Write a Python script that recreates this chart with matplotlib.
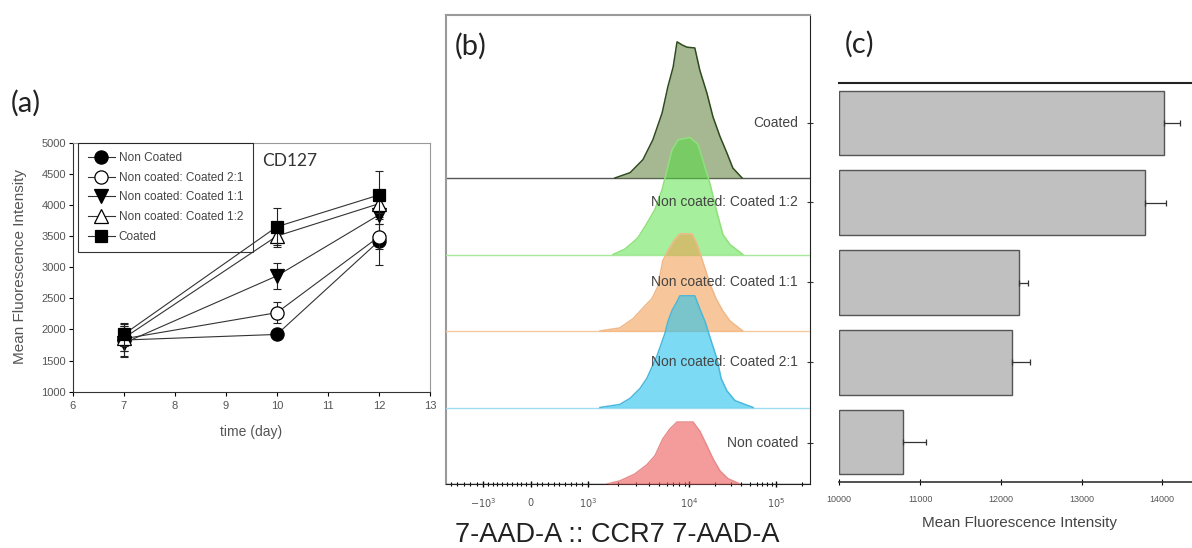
import numpy as np
import matplotlib
matplotlib.use("Agg")
import matplotlib.pyplot as plt

# ---------------- data ----------------
# (a) CD127 time course
days = [7, 10, 12]
non_coated = [1830, 1920, 3420]
non_coated_err = [250, 60, 380]
nc_c_2_1 = [1850, 2270, 3490]
nc_c_2_1_err = [200, 170, 200]
nc_c_1_1 = [1780, 2860, 3840]
nc_c_1_1_err = [230, 210, 150]
nc_c_1_2 = [1860, 3500, 4020]
nc_c_1_2_err = [200, 170, 150]
coated = [1920, 3650, 4160]
coated_err = [180, 300, 380]
series_labels_a = ["Non Coated", "Non coated: Coated 2:1", "Non coated: Coated 1:1",
                   "Non coated: Coated 1:2", "Coated"]

# (b) CCR7 histograms (x in display channel units, height in row units)
hist_labels = ["Coated", "Non coated: Coated 1:2", "Non coated: Coated 1:1",
               "Non coated: Coated 2:1", "Non coated"]
coated_x = [475, 518, 554, 582, 608, 624, 639, 650, 664, 678, 700, 714, 734, 751, 771, 790, 807, 833]
coated_h = [0, 0.07, 0.24, 0.50, 0.85, 1.19, 1.45, 1.78, 1.74, 1.71, 1.70, 1.41, 1.11, 0.80, 0.54, 0.33, 0.13, 0]
c12_x = [470, 503, 526, 540, 563, 588, 608, 622, 636, 653, 686, 709, 726, 743, 760, 779, 799, 835]
c12_h = [0, 0.07, 0.16, 0.22, 0.39, 0.59, 0.85, 1.11, 1.37, 1.50, 1.53, 1.44, 1.18, 0.92, 0.59, 0.26, 0.13, 0]
c11_x = [433, 489, 526, 560, 579, 596, 610, 624, 644, 658, 692, 706, 720, 743, 760, 779, 799, 835]
c11_h = [0, 0.04, 0.16, 0.33, 0.42, 0.58, 0.92, 1.05, 1.20, 1.27, 1.27, 1.14, 0.94, 0.61, 0.42, 0.26, 0.13, 0]
c21_x = [433, 489, 518, 546, 565, 594, 616, 624, 636, 647, 658, 700, 714, 729, 748, 762, 774, 790, 813, 864]
c21_h = [0, 0.04, 0.12, 0.25, 0.38, 0.68, 0.97, 1.12, 1.27, 1.36, 1.46, 1.46, 1.29, 1.12, 0.84, 0.64, 0.38, 0.22, 0.09, 0]
nc_x = [453, 489, 531, 565, 588, 610, 630, 650, 695, 714, 734, 751, 771, 793, 827]
nc_h = [0, 0.04, 0.13, 0.25, 0.37, 0.59, 0.72, 0.81, 0.81, 0.69, 0.50, 0.33, 0.17, 0.07, 0]
b_tick_pos = [104, 239, 399, 684, 928]
b_tick_labels = [r"$-10^3$", r"$0$", r"$10^3$", r"$10^4$", r"$10^5$"]

# (c) mean fluorescence intensity bars (top to bottom)
mfi_categories = ["Coated", "Non coated: Coated 1:2", "Non coated: Coated 1:1",
                  "Non coated: Coated 2:1", "Non coated"]
mfi = [14025, 13780, 12225, 12140, 10790]
mfi_err = [195, 270, 110, 220, 280]

# ---------------- figure ----------------
W, H = 1192, 548
fig = plt.figure(figsize=(W / 100, H / 100), dpi=100)
plt.rcParams['font.family'] = ['Liberation Sans', 'DejaVu Sans']

def box(l, t, r, b):
    return [l / W, 1 - b / H, (r - l) / W, (b - t) / H]

# ---------- panel (a) ----------
ax = fig.add_axes(box(72.7, 142.7, 430, 391.7))
styles = [
    dict(marker='o', mfc='black', ms=9.5),
    dict(marker='o', mfc='white', ms=9.5),
    dict(marker='v', mfc='black', ms=9.5),
    dict(marker='^', mfc='white', ms=9.5),
    dict(marker='s', mfc='black', ms=8.5),
]
all_vals = [non_coated, nc_c_2_1, nc_c_1_1, nc_c_1_2, coated]
all_errs = [non_coated_err, nc_c_2_1_err, nc_c_1_1_err, nc_c_1_2_err, coated_err]
handles = []
for i, (v, e, st, lab) in enumerate(zip(all_vals, all_errs, styles, series_labels_a)):
    ax.errorbar(days, v, yerr=e, fmt='none', ecolor='#222222', elinewidth=0.8,
                capsize=3, capthick=0.8, zorder=2 + i)
    ln, = ax.plot(days, v, color='#333333', lw=0.8, mec='black', mew=0.9,
                  zorder=3 + i, label=lab, **st)
    handles.append(ln)
ax.set_xlim(6, 13)
ax.set_ylim(1000, 5000)
ax.set_xticks(range(6, 14))
ax.set_yticks(range(1000, 5001, 500))
ax.tick_params(labelsize=8, labelcolor='#555555', length=3, width=0.8, direction='out', pad=2)
ax.tick_params(axis='x', pad=4)
for s in ['left', 'bottom']:
    ax.spines[s].set_color('#333333')
for s in ['top', 'right']:
    ax.spines[s].set_color('#999999')
leg = ax.legend(handles=handles, loc='upper left', bbox_to_anchor=(0.015, 1.0),
                borderaxespad=0, fontsize=8.5, frameon=True, fancybox=False,
                edgecolor='black', handlelength=2.3, labelspacing=0.65,
                handletextpad=0.35, borderpad=0.8, labelcolor='#444444')
leg.get_frame().set_linewidth(0.8)
fig.text(262 / W, 1 - 161 / H, "CD127", fontsize=12.5, family='Lato', color='#333333',
         ha='left', va='center')
fig.text(251 / W, 1 - 432 / H, "time (day)", fontsize=10, color='#555555', ha='center', va='center')
fig.text(20 / W, 1 - 266.7 / H, "Mean Fluorescence Intensity", fontsize=11, color='#555555',
         ha='center', va='center', rotation=90)
fig.text(26 / W, 1 - 103 / H, "(a)", fontsize=21, family='Lato', color='#222222',
         ha='center', va='center')

# ---------- panel (b) ----------
bx = fig.add_axes(box(446, 15, 810, 484))
hist_x = [coated_x, c12_x, c11_x, c21_x, nc_x]
hist_h = [coated_h, c12_h, c11_h, c21_h, nc_h]
fills = ['#6a8a4a', '#4ee03a', '#f29a4a', '#27c2ee', '#ee5a5a']
alphas = [0.6, 0.5, 0.55, 0.6, 0.6]
edges = ['#2f4a1f', '#8fe07a', '#f0b888', '#4ab8dc', '#e88a8a']
baseline_cols = ['#555555', '#a8e89a', '#f6c8a0', '#9fdcf0', '#333333']
n = len(hist_labels)
for i in range(n):
    off = n - 1 - i
    xs = np.array(hist_x[i], dtype=float)
    ys = np.array(hist_h[i], dtype=float) + off
    bx.axhline(off, color=baseline_cols[i], lw=1.0, zorder=2 * i + 1)
    bx.fill_between(xs, off, ys, color=fills[i], alpha=alphas[i], lw=0, zorder=2 * i + 1)
    bx.plot(xs, ys, color=edges[i], lw=1.1, zorder=2 * i + 2)
bx.set_xlim(0, 1024)
bx.set_ylim(0, 469 / 76.5)
bx.set_xticks(b_tick_pos)
bx.set_xticklabels(b_tick_labels)
minor = []
for a, b in [(399, 684), (684, 928)]:
    for k in range(2, 10):
        minor.append(a + np.log10(k) * (b - a))
minor.append(928 + np.log10(2) * 244)
for j in range(1, 10):
    minor.append(239 + (399 - 239) * j / 10)
    minor.append(239 - (239 - 104) * j / 10)
for j in range(1, 6):
    minor.append(104 - 18 * j)
bx.set_xticks(minor, minor=True)
bx.tick_params(axis='x', which='major', direction='inout', length=5, width=1,
               labelsize=7, labelcolor='#555555', pad=6)
bx.tick_params(axis='x', which='minor', direction='inout', length=3, width=0.8)
label_y = [(484 - 123) / 76.5, (484 - 202) / 76.5, (484 - 282) / 76.5,
           (484 - 362) / 76.5, (484 - 443) / 76.5]
bx.yaxis.tick_right()
bx.set_yticks(label_y)
bx.set_yticklabels([])
bx.tick_params(axis='y', direction='inout', length=5, width=0.8, color='#333333')
for lab, yy in zip(hist_labels, label_y):
    bx.text(1 - 12 / 364, yy, lab, transform=bx.get_yaxis_transform(), ha='right',
            va='center', fontsize=10, color='#444444', zorder=20)
for s in ['top', 'left']:
    bx.spines[s].set_color('#9a9a9a')
    bx.spines[s].set_linewidth(1.5)
bx.spines['right'].set_color('#222222')
bx.spines['bottom'].set_color('#222222')
fig.text(617 / W, 1 - 535 / H, "7-AAD-A :: CCR7 7-AAD-A", fontsize=19.5, color='#222222',
         ha='center', va='center')
fig.text(471 / W, 1 - 46 / H, "(b)", fontsize=21, family='Lato', color='#222222',
         ha='center', va='center')

# ---------- panel (c) ----------
cx = fig.add_axes(box(839.3, 83, 1192, 482))
x0 = 10000
ypos = np.arange(len(mfi))
widths = np.array(mfi) - x0
cx.barh(ypos, widths, left=x0, height=0.81, color='#c0c0c0', edgecolor='#555555', lw=1.0)
cx.errorbar(mfi, ypos, xerr=[np.zeros(len(mfi)), mfi_err], fmt='none', ecolor='#333333',
            elinewidth=0.9, capsize=2.5, capthick=0.9)
cx.set_xlim(x0, x0 + (1192 - 839.3) / 0.08075)
cx.set_ylim(len(mfi) - 0.5, -0.5)
cx.set_xticks([10000, 11000, 12000, 13000, 14000])
cx.set_xticklabels(["10000", "11000", "12000", "13000", "14000"])
cx.set_yticks([])
cx.tick_params(axis='x', direction='inout', length=4, width=0.8, labelsize=6.5,
               labelcolor='#555555', pad=7)
cx.spines['left'].set_visible(False)
cx.spines['right'].set_visible(False)
cx.spines['top'].set_color('#222222')
cx.spines['top'].set_linewidth(1.5)
cx.spines['bottom'].set_color('#333333')
cx.spines['bottom'].set_linewidth(1.2)
fig.text(1020 / W, 1 - 523 / H, "Mean Fluorescence Intensity", fontsize=11, color='#444444',
         ha='center', va='center')
fig.text(860 / W, 1 - 44 / H, "(c)", fontsize=21, family='Lato', color='#222222',
         ha='center', va='center')

fig.savefig("out.png", dpi=100)
